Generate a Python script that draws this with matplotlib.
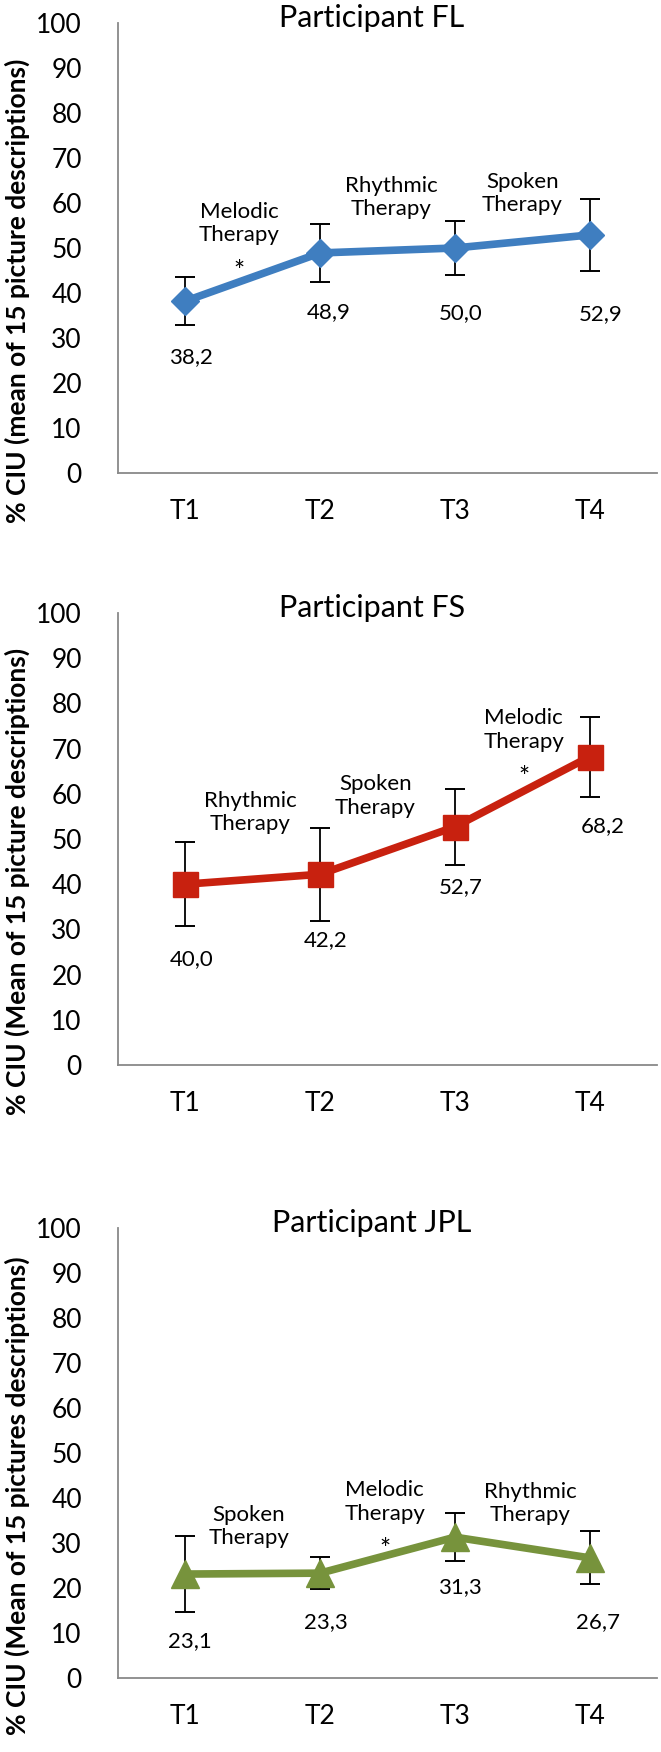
import matplotlib
matplotlib.use("Agg")
import matplotlib.pyplot as plt

plt.rcParams['font.family'] = ['Lato', 'DejaVu Sans']

# ---------- data ----------
timepoints = ["T1", "T2", "T3", "T4"]
x_pos = [1, 2, 3, 4]

fl_mean = [38.2, 48.9, 50.0, 52.9]
fl_err = [5.3, 6.4, 6.0, 8.0]
fl_labels = ["38,2", "48,9", "50,0", "52,9"]

fs_mean = [40.0, 42.2, 52.7, 68.2]
fs_err = [9.3, 10.3, 8.4, 8.8]
fs_labels = ["40,0", "42,2", "52,7", "68,2"]

jpl_mean = [23.1, 23.3, 31.3, 26.7]
jpl_err = [8.4, 3.5, 5.4, 5.9]
jpl_labels = ["23,1", "23,3", "31,3", "26,7"]

fl_therapies = ["Melodic\nTherapy", "Rhythmic\nTherapy", "Spoken\nTherapy"]
fs_therapies = ["Rhythmic\nTherapy", "Spoken\nTherapy", "Melodic\nTherapy"]
jpl_therapies = ["Spoken\nTherapy", "Melodic\nTherapy", "Rhythmic\nTherapy"]

# ---------- text placement ----------
fl_lab_x = [1.04, 2.06, 3.04, 4.08]
fl_lab_y = [25.8, 35.7, 35.5, 35.3]
fl_ther_x = [1.40, 2.53, 3.50]
fl_ther_y = [55.5, 61.3, 62.1]
fl_star = (1.40, 46.8)

fs_lab_x = [1.05, 2.04, 3.04, 4.10]
fs_lab_y = [23.4, 27.7, 39.3, 52.9]
fs_ther_x = [1.48, 2.41, 3.51]
fs_ther_y = [55.8, 59.5, 74.1]
fs_star = (3.51, 65.6)

jpl_lab_x = [1.03, 2.04, 3.04, 4.06]
jpl_lab_y = [8.2, 12.4, 20.3, 12.4]
jpl_ther_x = [1.47, 2.48, 3.56]
jpl_ther_y = [33.7, 39.1, 38.7]
jpl_star = (2.48, 30.5)

W, H = 661, 1752
fig = plt.figure(figsize=(W / 100, H / 100), dpi=100)


def panel(top_px, bottom_px, title, ylabel, means, errs, labels, lab_x, lab_y,
          therapies, ther_x, ther_y, star, color, marker, ms):
    left, right = 118, 657
    ax = fig.add_axes([left / W, 1 - bottom_px / H, (right - left) / W,
                       (bottom_px - top_px) / H])
    ax.errorbar(x_pos, means, yerr=errs, fmt='none', ecolor='black',
                elinewidth=1.3, capsize=7, capthick=1.4, zorder=2)
    ax.plot(x_pos, means, color=color, lw=5.5, marker=marker, ms=ms,
            mfc=color, mec=color, zorder=3)
    ax.set_xlim(0.5, 4.5)
    ax.set_ylim(0, 100)
    ax.set_yticks(range(0, 101, 10))
    ax.set_xticks(x_pos)
    ax.set_xticklabels(timepoints)
    ax.tick_params(length=0, labelsize=19)
    ax.tick_params(axis='y', pad=26)
    ax.tick_params(axis='x', pad=19)
    for s in ['top', 'right']:
        ax.spines[s].set_visible(False)
    for s in ['left', 'bottom']:
        ax.spines[s].set_color('#898989')
        ax.spines[s].set_linewidth(1.3)
    # axis title, centred a bit below the middle of the plot
    fig.text(17 / W, 1 - (top_px + 268) / H, ylabel, rotation=90,
             ha='center', va='center', fontsize=19, fontweight='bold')
    ax.text(0.471, 1.012, title, transform=ax.transAxes, ha='center',
            va='center', fontsize=22)
    for x, y, t in zip(lab_x, lab_y, labels):
        ax.text(x, y, t, ha='center', va='center', fontsize=16)
    for x, y, t in zip(ther_x, ther_y, therapies):
        ax.text(x, y, t, ha='center', va='center', fontsize=16,
                linespacing=1.2)
    ax.text(star[0], star[1] - 2.2, "*", ha='center', va='center',
            fontsize=19)
    return ax


panel(23, 473, "Participant FL", "% CIU (mean of 15 picture descriptions)",
      fl_mean, fl_err, fl_labels, fl_lab_x, fl_lab_y,
      fl_therapies, fl_ther_x, fl_ther_y, fl_star, '#3F7EC0', 'D', 14)
panel(613, 1065, "Participant FS", "% CIU (Mean of 15 picture descriptions)",
      fs_mean, fs_err, fs_labels, fs_lab_x, fs_lab_y,
      fs_therapies, fs_ther_x, fs_ther_y, fs_star, '#C8210F', 's', 18)
panel(1228, 1678, "Participant JPL", "% CIU (Mean of 15 pictures descriptions)",
      jpl_mean, jpl_err, jpl_labels, jpl_lab_x, jpl_lab_y,
      jpl_therapies, jpl_ther_x, jpl_ther_y, jpl_star, '#77933C', '^', 20)

fig.savefig("out.png", dpi=100)
